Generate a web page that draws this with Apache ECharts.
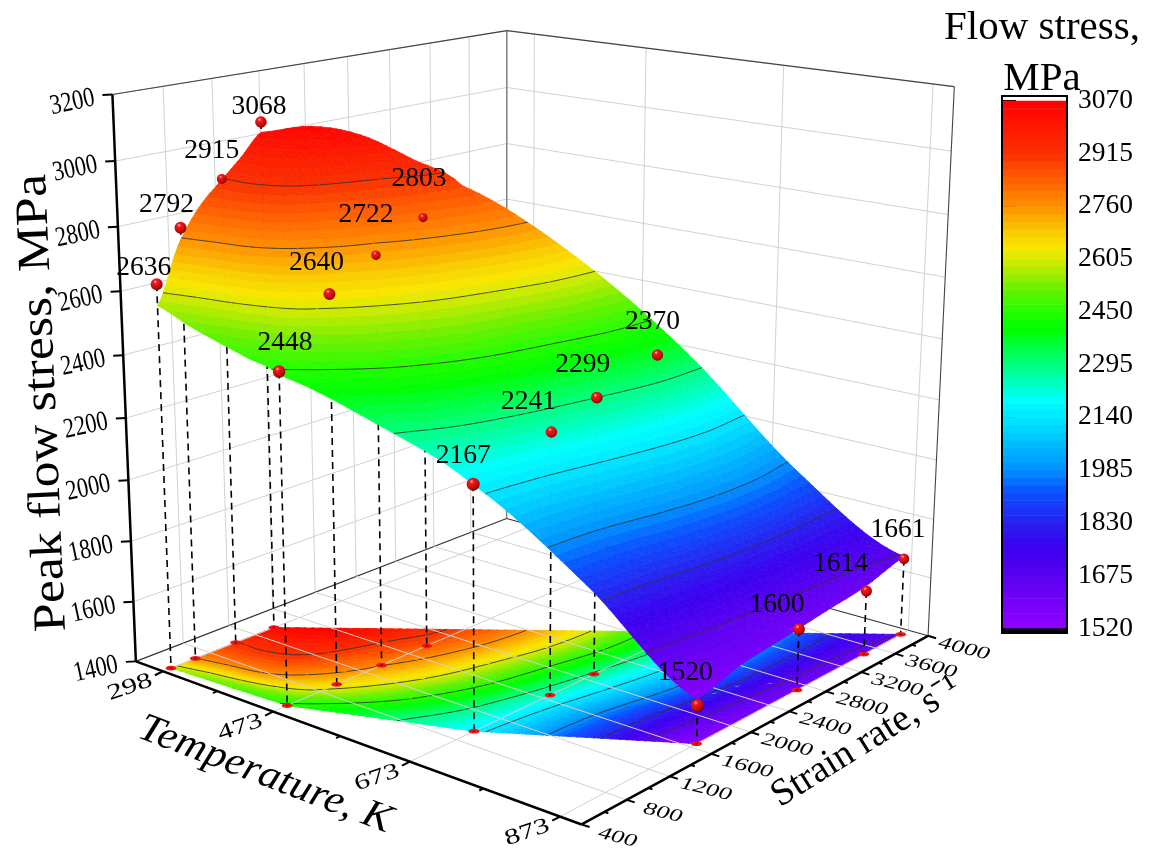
<!DOCTYPE html>
<html><head><meta charset="utf-8"><style>html,body{margin:0;padding:0;background:#fff}#c{width:1155px;height:850px}</style>
<script src="https://cdn.jsdelivr.net/npm/echarts@6/dist/echarts.min.js"></script></head><body><div id="c"></div>
<script>
// ---- data ----
const temperatures = [298, 473, 673, 873];
const ratesAt298 = [468, 674, 1023, 1365];
const ratesAt473 = [519, 947, 1350, 1772];
const ratesAt673 = [958, 1664, 2096, 2700];
const ratesAt873 = [1660, 2704, 3464, 3906];
const stressAt298 = [2636, 2792, 2915, 3068];
const stressAt473 = [2448, 2640, 2722, 2803];
const stressAt673 = [2167, 2241, 2299, 2370];
const stressAt873 = [1520, 1600, 1614, 1661];
const stressTicks = [1400, 1600, 1800, 2000, 2200, 2400, 2600, 2800, 3000, 3200];
const rateTicks = [400, 800, 1200, 1600, 2000, 2400, 2800, 3200, 3600, 4000];
const colorbarTicks = [1520, 1675, 1830, 1985, 2140, 2295, 2450, 2605, 2760, 2915, 3070];
// fitted surface: one row per temperature, from the low-rate edge to the high-rate edge
const surfaceTemps = [298, 342, 385, 429, 473, 573, 673, 773, 873];
const surfaceRateLow = [468, 481, 493, 506, 519, 739, 959, 1310, 1660];
const surfaceRateHigh = [1365, 1559, 1749, 1944, 2138, 2580, 3022, 3464, 3906];
const surface298 = [2569, 2737, 2841, 2907, 2969, 3036];
const surface342 = [2530, 2733, 2864, 2943, 3005, 3056];
const surface385 = [2498, 2735, 2865, 2935, 2985, 3030];
const surface429 = [2468, 2690, 2808, 2868, 2914, 2957];
const surface473 = [2437, 2604, 2715, 2794, 2846, 2874];
const surface573 = [2320, 2431, 2525, 2581, 2631, 2650];
const surface673 = [2165, 2196, 2245, 2293, 2335, 2340];
const surface773 = [1877, 1898, 1950, 1985, 1986, 1956];
const surface873 = [1541, 1580, 1597, 1615, 1632, 1669];

// ---- styling / layout ----
const serif = '"Liberation Serif","Times New Roman",serif';
const sphereRadius = [[6,6,5,5.8],[6.3,6,4.8,4.6],[6.5,5.8,5.8,5.7],[6.5,6,5.6,5.3]];
const labelNudge = [[[-13,-16],[-14,-23],[-10,-28],[-2,-15]],[[6,-29],[-13,-31],[-10,-40],[-4,-39]],[[-10,-28],[-23,-30],[-14,-33],[-5,-33]],[[-12,-33],[-22,-24],[-26,-27],[-6,-29]]];
const colorStops = [[1520,[144,0,255]],[1675,[90,0,240]],[1760,[58,0,240]],[1830,[40,32,240]],[1920,[10,80,255]],[1985,[0,144,255]],[2140,[0,232,255]],[2190,[0,255,255]],[2295,[0,255,128]],[2400,[0,255,0]],[2450,[32,255,0]],[2525,[112,240,0]],[2605,[216,234,0]],[2637,[248,230,0]],[2680,[248,208,0]],[2760,[255,144,0]],[2838,[255,96,0]],[2915,[250,48,0]],[3070,[255,0,0]]];
const camera = [366.15542,456.89468,-30.21501,135.88468,50.31406,-54.74255,-572.57743,661.37615,-0.13679,0.17005,-0.06008];
const tMin = 253, tMax = 900, rMin = 400, rMax = 4000, zMin = 1400, zMax = 3200;
const bandCount = 70;

const uOf = t => (t - tMin) / (tMax - tMin), vOf = r => (r - rMin) / (rMax - rMin), wOf = z => (z - zMin) / (zMax - zMin);
function project(u, v, w) {
  const p = camera, h = p[8]*u + p[9]*v + p[10]*w + 1;
  return [(p[0]*u + p[1]*v + p[2]*w + p[3]) / h, (p[4]*u + p[5]*v + p[6]*w + p[7]) / h];
}
function colorAt(z) {
  const s = colorStops;
  if (z <= s[0][0]) return s[0][1];
  for (let i = 1; i < s.length; i++) if (z <= s[i][0]) {
    const q = (z - s[i-1][0]) / (s[i][0] - s[i-1][0]);
    return s[i-1][1].map((c, k) => Math.round(c + (s[i][1][k] - c) * q));
  }
  return s[s.length-1][1];
}
const rgb = c => 'rgb(' + c.join(',') + ')';

const surfaceRows = [surface298, surface342, surface385, surface429, surface473, surface573, surface673, surface773, surface873];
const nT = surfaceTemps.length, nR = surface298.length;
const cr = (a, b, c, d, t) => 0.5 * (2*b + (c-a)*t + (2*a-5*b+4*c-d)*t*t + (3*b-a-3*c+d)*t*t*t);
const cl = (i, n) => Math.max(0, Math.min(n-1, i));
function surf(i, fi, j, fj) {
  const col = k => { const r = surfaceRows[cl(k, nT)];
    return cr(r[cl(j-1,nR)], r[cl(j,nR)], r[cl(j+1,nR)], r[cl(j+2,nR)], fj); };
  return cr(col(i-1), col(i), col(i+1), col(i+2), fi);
}
function clip(poly, lvl, keepAbove) {
  const out = [];
  for (let i = 0; i < poly.length; i++) {
    const a = poly[i], b = poly[(i+1) % poly.length];
    const ina = keepAbove ? a[2] >= lvl : a[2] <= lvl, inb = keepAbove ? b[2] >= lvl : b[2] <= lvl;
    if (ina) out.push(a);
    if (ina !== inb) { const q = (lvl - a[2]) / (b[2] - a[2]); out.push([a[0]+(b[0]-a[0])*q, a[1]+(b[1]-a[1])*q, lvl]); }
  }
  return out;
}
const bandStep = (3070 - 1520) / bandCount;
const levels = colorbarTicks.slice(1, -1);
const cells = [];
for (let i = 0; i < nT - 1; i++) for (let j = 0; j < nR - 1; j++) {
  const nu = Math.max(5, Math.round((surfaceTemps[i+1] - surfaceTemps[i]) / 8)), nv = 6;
  const vtx = (a, b) => {
    const fi = a / nu, fj = b / nv, T = surfaceTemps[i] + (surfaceTemps[i+1]-surfaceTemps[i]) * fi;
    const lo = surfaceRateLow[i] + (surfaceRateLow[i+1]-surfaceRateLow[i]) * fi;
    const hi = surfaceRateHigh[i] + (surfaceRateHigh[i+1]-surfaceRateHigh[i]) * fi;
    const t = (j + fj) / (nR - 1);
    return [uOf(T), vOf(lo + (hi - lo) * t), surf(i, fi, j, fj)];
  };
  const polys = [], segs = [];
  for (let a = 0; a < nu; a++) for (let b = 0; b < nv; b++) {
    const A = vtx(a,b), B = vtx(a+1,b), C = vtx(a+1,b+1), D = vtx(a,b+1);
    for (const tri of [[A,B,C],[A,C,D]]) {
      const zs = tri.map(q => q[2]), lo = Math.min(...zs), hi = Math.max(...zs);
      const b0 = Math.floor((lo-1520)/bandStep), b1 = Math.floor((hi-1520)/bandStep);
      for (let k = b0; k <= b1; k++) {
        let P = tri;
        if (k > b0) P = clip(P, 1520 + k*bandStep, true);
        if (k < b1) P = clip(P, 1520 + (k+1)*bandStep, false);
        if (P.length > 2) polys.push({ pts: P, color: rgb(colorAt(1520 + (k+.5)*bandStep)) });
      }
      for (const L of levels) if (lo < L && hi > L) {
        const s = [];
        for (let e = 0; e < 3; e++) { const p = tri[e], q = tri[(e+1)%3];
          if ((p[2] < L) !== (q[2] < L)) { const f = (L-p[2])/(q[2]-p[2]); s.push([p[0]+(q[0]-p[0])*f, p[1]+(q[1]-p[1])*f, L]); } }
        if (s.length === 2) segs.push(s);
      }
    }
  }
  cells.push({ polys, segs });
}

const measured = temperatures.map((T, i) => ({
  T, rates: [ratesAt298, ratesAt473, ratesAt673, ratesAt873][i], stress: [stressAt298, stressAt473, stressAt673, stressAt873][i], i
}));
const pointsList = [];
measured.forEach(m => m.rates.forEach((r, j) => pointsList.push({ T: m.T, r, z: m.stress[j], i: m.i, j })));

const mainLayer = (items, fn) => ({
  type: 'custom', coordinateSystem: 'cartesian2d', xAxisIndex: 0, yAxisIndex: 0, silent: true, clip: false, animation: false, progressive: 0,
  data: items.map((_, i) => [i]), encode: { x: 0 },
  renderItem: (params, api) => fn(items[params.dataIndex], q => api.coord(q))
});
const P3 = c => (u, v, w) => c(project(u, v, w));
const lineEl = (a, b, stroke, lw, dash) => ({ type: 'line', shape: { x1: a[0], y1: a[1], x2: b[0], y2: b[1] }, style: { stroke, lineWidth: lw, lineDash: dash || null, lineCap: 'butt' } });
const textEl = (p, text, font, opt) => ({ type: 'text', x: p[0], y: p[1], rotation: (opt && opt.rot || 0) * Math.PI / 180, scaleX: opt && opt.sx || 1, scaleY: opt && opt.sy || 1,
  style: { text, font, fill: '#000', align: opt && opt.align || 'center', verticalAlign: 'middle' } });
const add = (p, dx, dy) => [p[0] + dx, p[1] + dy];

const grey = '#d2d2d2';
const wallsLayer = mainLayer([0], (_, c) => {
  const P = P3(c), ch = [];
  stressTicks.slice(1).forEach(z => { const w = wOf(z);
    ch.push(lineEl(P(0,0,w), P(0,1,w), grey, 1), lineEl(P(0,1,w), P(1,1,w), grey, 1)); });
  rateTicks.slice(1, -1).forEach(r => ch.push(lineEl(P(0,vOf(r),0), P(0,vOf(r),1), grey, 1)));
  temperatures.forEach(T => ch.push(lineEl(P(uOf(T),1,0), P(uOf(T),1,1), grey, 1)));
  ch.push(lineEl(P(0,1,0), P(0,1,1), '#808080', 1.5), lineEl(P(0,0,1), P(0,1,1), '#444', 1.2), lineEl(P(0,1,1), P(1,1,1), '#444', 1.2), lineEl(P(1,1,0), P(1,1,1), '#444', 1.1));
  ch.push(lineEl(P(0,0,0), P(0,1,0), '#333', 1.1), lineEl(P(0,1,0), P(1,1,0), '#333', 1.1));
  return { type: 'group', children: ch };
});
const meshChildren = (cell, c, flat) => {
  const P = P3(c), ch = [];
  cell.polys.forEach(pl => {
    ch.push({ type: 'polygon', shape: { points: pl.pts.map(q => P(q[0], q[1], flat ? 0 : wOf(q[2]))) }, style: { fill: pl.color, stroke: pl.color, lineWidth: 0.7 } });
  });
  cell.segs.forEach(s => {
    ch.push(lineEl(P(s[0][0], s[0][1], flat ? 0 : wOf(s[0][2])), P(s[1][0], s[1][1], flat ? 0 : wOf(s[1][2])), 'rgba(50,50,50,0.85)', 1));
  });
  return { type: 'group', children: ch };
};
const floorLayer = mainLayer(cells, (cell, c) => meshChildren(cell, c, true));
const floorGridLayer = mainLayer([0], (_, c) => {
  const P = P3(c), ch = [];
  temperatures.forEach(T => ch.push(lineEl(P(uOf(T),0,0), P(uOf(T),1,0), grey, 1)));
  rateTicks.slice(1, -1).forEach(r => ch.push(lineEl(P(0,vOf(r),0), P(1,vOf(r),0), grey, 1)));
  return { type: 'group', children: ch };
});
const dropLayer = mainLayer(pointsList, (pt, c) => {
  const P = P3(c), u = uOf(pt.T), v = vOf(pt.r);
  return { type: 'group', children: [
    lineEl(P(u,v,wOf(pt.z)), P(u,v,0), '#000', 1.6, [7,5]),
    { type: 'ellipse', shape: { cx: P(u,v,0)[0], cy: P(u,v,0)[1], rx: 5.5, ry: 2.4 }, style: { fill: '#f31414' } },
    { type: 'ellipse', shape: { cx: P(u,v,0)[0], cy: P(u,v,0)[1], rx: 1.6, ry: 0.8 }, style: { fill: '#7a0a0a' } }
  ] };
});
const surfaceLayer = mainLayer(cells, (cell, c) => meshChildren(cell, c, false));
const axesLayer = mainLayer([0], (_, c) => {
  const P = P3(c), ch = [];
  ch.push(lineEl(P(0,0,0), P(0,0,1), '#000', 2.5), lineEl(P(0,0,0), P(1,0,0), '#000', 2.5), lineEl(P(1,0,0), P(1,1,0), '#000', 2.5));
  stressTicks.forEach(z => { const p = P(0,0,wOf(z));
    ch.push(lineEl(p, add(p,-10,0.5), '#000', 2));
    ch.push(textEl(add(p,-40,8), String(z), '28px ' + serif, { rot: 12, sx: 0.8 })); });
  temperatures.forEach(T => { const p = P(uOf(T),0,0);
    ch.push(lineEl(p, add(p,-8,4), '#000', 2));
    ch.push(textEl(add(p,-33,16), String(T), '22px ' + serif, { rot: 19, sx: 1.4 })); });
  temperatures.slice(0,-1).forEach((T, i) => { const p = P(uOf((T + temperatures[i+1]) / 2),0,0); ch.push(lineEl(p, add(p,-4,2), '#000', 2)); });
  rateTicks.forEach(r => { const p = P(1,vOf(r),0);
    ch.push(lineEl(p, add(p,8,2.5), '#000', 2));
    ch.push(textEl(add(p,36,13), String(r), 'italic 18px ' + serif, { rot: -14, sx: 1.45 })); });
  rateTicks.slice(0,-1).forEach(r => { const p = P(1,vOf(r+200),0); ch.push(lineEl(p, add(p,4,1.3), '#000', 2)); });
  return { type: 'group', children: ch };
});
const sphereLayer = mainLayer(pointsList, (pt, c) => {
  const p = P3(c)(uOf(pt.T), vOf(pt.r), wOf(pt.z)), n = labelNudge[pt.i][pt.j];
  return { type: 'group', children: [
    { type: 'circle', shape: { cx: p[0], cy: p[1], r: sphereRadius[pt.i][pt.j] },
      style: { fill: new echarts.graphic.RadialGradient(0.38, 0.3, 0.75, [{offset:0,color:'#ffc8c8'},{offset:0.2,color:'#ee1c1c'},{offset:0.72,color:'#c00808'},{offset:1,color:'#6e0000'}]) } },
    textEl(add(p, n[0], n[1]), String(pt.z), '27.5px ' + serif)
  ] };
});
const titlesLayer = mainLayer([
  { p: [43, 403], s: 'Peak flow stress, MPa', f: '46px ' + serif, rot: 92.5, sx: 1.12 },
  { p: [265, 775], s: 'Temperature, K', f: 'italic 40px ' + serif, rot: -21, sx: 1.08 },
  { p: [866, 742], s: 'Strain rate, s\u207B\u00B9', f: '38px ' + serif, rot: 32 },
  { p: [1042, 28], s: 'Flow stress,', f: '41px ' + serif },
  { p: [1042, 79], s: 'MPa', f: '41px ' + serif }
], (t, c) => textEl(c(t.p), t.s, t.f, { rot: t.rot, sx: t.sx }));

const barBands = [];
for (let k = 0; k < bandCount; k++) barBands.push(1520 + k * bandStep);
const barCap = 14; // MPa beyond each end of the bar: the out-of-range strips
const barLayer = {
  type: 'custom', coordinateSystem: 'cartesian2d', xAxisIndex: 1, yAxisIndex: 1, silent: true, clip: false, animation: false, progressive: 0,
  data: barBands.map((_, i) => [i]), encode: { x: 0 },
  renderItem: (params, api) => {
    const lo = barBands[params.dataIndex], a = api.coord([0, lo]), b = api.coord([1, lo + bandStep]);
    return { type: 'rect', shape: { x: a[0], y: b[1], width: b[0]-a[0], height: a[1]-b[1] + 0.6 }, style: { fill: rgb(colorAt(lo + bandStep/2)) } };
  }
};
const barFrame = {
  type: 'custom', coordinateSystem: 'cartesian2d', xAxisIndex: 1, yAxisIndex: 1, silent: true, clip: false, animation: false, progressive: 0,
  data: [[0]], encode: { x: 0 }, z: 3,
  renderItem: (params, api) => {
    const tl = api.coord([0, 3070 + barCap]), br = api.coord([1, 1520 - barCap]), b0 = api.coord([0, 1520]);
    return { type: 'group', children: [
      { type: 'rect', shape: { x: tl[0], y: b0[1], width: br[0]-tl[0], height: br[1]-b0[1] }, style: { fill: '#000' } },
      { type: 'rect', shape: { x: tl[0], y: tl[1], width: br[0]-tl[0], height: br[1]-tl[1] }, style: { fill: 'none', stroke: '#000', lineWidth: 2 } }
    ] };
  }
};

const chart = echarts.init(document.getElementById('c'), null, { renderer: 'canvas' });
chart.setOption({
  animation: false, backgroundColor: '#fff',
  grid: [
    { left: 0, top: 0, width: 1155, height: 850, containLabel: false },
    { left: 1002, top: 100.7, width: 65, height: 527.6, containLabel: false }
  ],
  xAxis: [
    { type: 'value', gridIndex: 0, min: 0, max: 1155, show: false },
    { type: 'value', gridIndex: 1, min: 0, max: 1, show: false }
  ],
  yAxis: [
    { type: 'value', gridIndex: 0, min: 0, max: 850, inverse: true, show: false },
    { type: 'value', gridIndex: 1, min: 1520, max: 3070, position: 'right',
      axisLine: { show: false }, splitLine: { show: false },
      axisTick: { show: true, length: 14, customValues: colorbarTicks, lineStyle: { color: '#000', width: 2 } },
      axisLabel: { show: true, customValues: colorbarTicks, margin: 11, color: '#000', fontSize: 27.5, fontFamily: serif, formatter: v => String(v) } }
  ],
  series: [wallsLayer, floorLayer, floorGridLayer, dropLayer, surfaceLayer, axesLayer, sphereLayer, titlesLayer, barLayer, barFrame]
});
</script></body></html>
